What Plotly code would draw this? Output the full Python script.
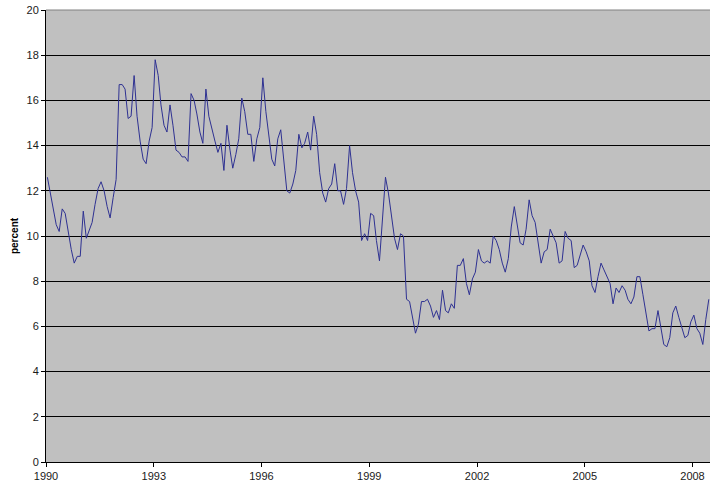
import plotly.graph_objects as go
import pandas as pd

start_month = "1990-01"
values = [
    12.6, 11.9, 11.2, 10.5, 10.2, 11.2, 11.0, 10.1, 9.4, 8.8, 9.1, 9.1,
    11.1, 9.9, 10.2, 10.6, 11.4, 12.1, 12.4, 12.0, 11.3, 10.8, 11.7, 12.5,
    16.7, 16.7, 16.5, 15.2, 15.3, 17.1, 15.3, 14.2, 13.4, 13.2, 14.2, 14.8,
    17.8, 17.1, 15.8, 14.9, 14.6, 15.8, 14.9, 13.8, 13.7, 13.5, 13.5, 13.3,
    16.3, 16.0, 15.4, 14.6, 14.1, 16.5, 15.3, 14.7, 14.2, 13.7, 14.1, 12.9,
    14.9, 13.8, 13.0, 13.6, 14.3, 16.1, 15.5, 14.5, 14.5, 13.3, 14.3, 14.8,
    17.0, 15.5, 14.6, 13.4, 13.1, 14.3, 14.7, 13.3, 12.0, 11.9, 12.3, 12.9,
    14.5, 13.9, 14.1, 14.6, 13.8, 15.3, 14.5, 12.8, 11.9, 11.5, 12.1, 12.3,
    13.2, 12.0, 12.0, 11.4, 12.1, 14.0, 12.8, 12.0, 11.5, 9.8, 10.1, 9.8,
    11.0, 10.9, 9.8, 8.9, 10.6, 12.6, 11.9, 10.9, 9.9, 9.4, 10.1, 10.0,
    7.2, 7.1, 6.4, 5.7, 6.1, 7.1, 7.1, 7.2, 6.9, 6.4, 6.7, 6.3,
    7.6, 6.7, 6.6, 7.0, 6.8, 8.7, 8.7, 9.0, 7.9, 7.4, 8.1, 8.4,
    9.4, 8.9, 8.8, 8.9, 8.8, 10.0, 9.8, 9.4, 8.8, 8.4, 9.0, 10.4,
    11.3, 10.5, 9.7, 9.6, 10.3, 11.6, 10.9, 10.6, 9.7, 8.8, 9.3, 9.4,
    10.3, 10.0, 9.7, 8.8, 8.9, 10.2, 9.9, 9.8, 8.6, 8.7, 9.2, 9.6,
    9.3, 8.9, 7.8, 7.5, 8.2, 8.8, 8.5, 8.2, 7.9, 7.0, 7.7, 7.5,
    7.8, 7.6, 7.2, 7.0, 7.3, 8.2, 8.2, 7.4, 6.5, 5.8, 5.9, 5.9,
    6.7, 5.9, 5.2, 5.1, 5.5, 6.6, 6.9, 6.4, 5.9, 5.5, 5.6, 6.2,
    6.5, 5.9, 5.7, 5.2, 6.3, 7.2,
]
tick_years = ["1990", "1993", "1996", "1999", "2002", "2005", "2008"]
y_ticks = [0, 2, 4, 6, 8, 10, 12, 14, 16, 18, 20]

dates = pd.date_range(start=start_month + "-01", periods=len(values), freq="MS") + pd.Timedelta(days=14)
tickvals = [f"{y}-01-01" for y in tick_years]

fig = go.Figure()
fig.add_trace(go.Scatter(
    x=dates, y=values, mode="lines",
    line=dict(color="#2E3192", width=1),
    hoverinfo="skip", showlegend=False,
))

font = dict(family="Liberation Sans, Arial, sans-serif", size=11, color="#1a1a1a")

fig.update_layout(
    width=710, height=487,
    margin=dict(l=46, r=0, t=10, b=25),
    paper_bgcolor="white",
    plot_bgcolor="#C0C0C0",
    font=font,
    hovermode=False,
    xaxis=dict(
        type="date",
        range=["1990-01-01", "2008-06-27"],
        tickvals=tickvals, ticktext=tick_years,
        showgrid=False, zeroline=False,
        showline=True, linecolor="black", linewidth=1,
        ticks="outside", ticklen=4, tickcolor="black", tickwidth=1,
        tickfont=font,
    ),
    yaxis=dict(
        range=[0, 20],
        tickvals=y_ticks,
        showgrid=True, gridcolor="black", gridwidth=1,
        zeroline=False,
        showline=True, linecolor="black", linewidth=1,
        ticks="outside", ticklen=4, tickcolor="black", tickwidth=1,
        tickfont=font,
        title=dict(text="<b>percent</b>", font=dict(family="Liberation Sans, Arial, sans-serif", size=10, color="black"), standoff=6),
    ),
)

fig.add_shape(type="line", xref="paper", yref="paper", x0=0, x1=1, y0=1, y1=1,
              line=dict(color="#808080", width=1), layer="above")

fig.write_html("out.html", config={"displayModeBar": False},
               post_script="document.body.style.margin='0';document.body.style.overflow='hidden';")
